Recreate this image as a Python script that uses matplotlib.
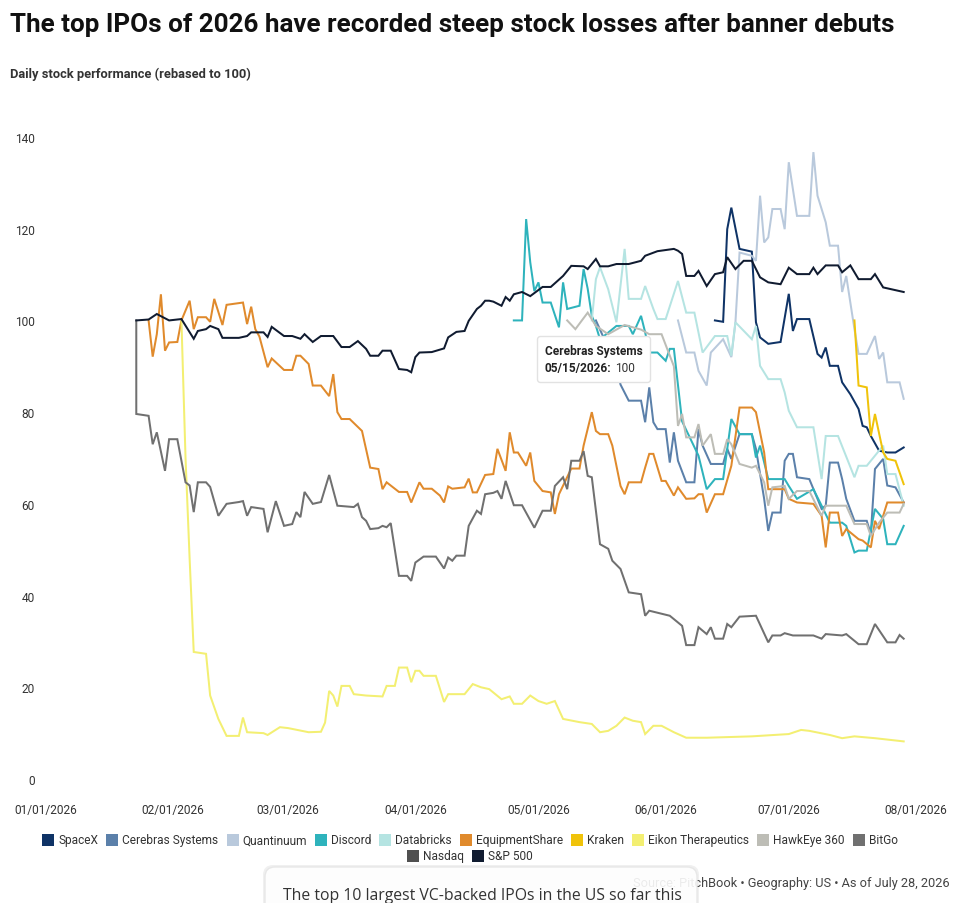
import pandas as pd
import matplotlib
matplotlib.use("Agg")
import matplotlib.pyplot as plt
import matplotlib.dates as mdates
from matplotlib.patches import Rectangle, FancyBboxPatch
from matplotlib.offsetbox import TextArea, HPacker, VPacker, AnnotationBbox
from matplotlib.transforms import IdentityTransform

W, H, DPI = 960, 904, 100
plt.rcParams['font.family'] = ['Roboto', 'DejaVu Sans']

start = pd.Timestamp('2026-01-01')

# days after Jan 1, 2026 and rebased performance
spacex_day = [163, 165, 166, 167, 169, 172, 173, 174, 176, 179, 181, 182, 183, 186, 188, 189, 190, 191, 193, 194,
              196, 198, 199, 200, 201, 203, 205, 207, 209]
spacex_val = [100, 99.7, 119.9, 124.6, 115.6, 115.0, 99.6, 96.3, 94.9, 95.3, 105.8, 97.7, 100.3, 100.3, 92.7, 91.9,
              94.1, 90.1, 90.1, 86.5, 83.9, 80.7, 77.0, 76.7, 74.8, 71.6, 71.2, 71.2, 72.3]

cerebras_day = [134, 136, 139, 140, 142, 145, 146, 147, 148, 149, 151, 152, 153, 154, 156, 158, 159, 160, 162, 165,
                166, 167, 169, 172, 173, 175, 176, 177, 179, 180, 181, 182, 183, 186, 188, 189, 190, 191, 193, 194,
                195, 197, 200, 201, 202, 204, 205, 207, 209]
cerebras_val = [100, 96, 90, 86, 82.5, 82.5, 77.8, 85.4, 77.8, 76.3, 76.3, 69, 75.6, 69.4, 64.7, 64.7, 76.3, 72.7,
                68.7, 68.7, 72, 69.8, 75.2, 75.2, 72, 61.1, 54.1, 58.1, 58.1, 69.4, 70.9, 70.9, 65.8, 65.4, 61.1,
                58.9, 59.6, 69, 69, 65.4, 61.1, 56.3, 56.3, 53.4, 67.6, 69.8, 64, 63.6, 60.3]

quant_day = [154, 156, 158, 159, 161, 162, 165, 167, 168, 169, 172, 173, 174, 175, 176, 177, 179, 180, 181, 183,
             186, 187, 188, 190, 191, 193, 194, 195, 197, 198, 200, 202, 203, 204, 205, 208, 209]
quant_val = [100, 93, 93, 89, 85.8, 93, 95.9, 92, 99.6, 114.8, 114.1, 113, 127.2, 117, 118.1, 124.3, 124.3, 119.9,
             134.5, 122.8, 122.8, 136.7, 127.2, 121.4, 116.3, 116.3, 106.2, 109.7, 98.1, 92.7, 92.7, 96.6, 91.6,
             93, 86.5, 86.5, 82.9]

teal_day = [114, 116, 117, 118, 119, 120, 121, 123, 125, 126, 127, 130, 131, 132, 133, 134, 135, 139, 142, 143,
            145, 146, 147, 149, 151, 152, 153, 155, 159, 161, 163, 165, 167, 169, 172, 173, 174, 176, 180, 181,
            183, 187, 189, 191, 194, 195, 197, 198, 200, 202, 204, 205, 207, 209]
teal_val = [100, 100, 122.1, 112.7, 106.4, 108.3, 103.9, 103.9, 98.5, 108.3, 102.5, 103.2, 111.2, 106.9, 101, 98.8,
            95.9, 98.8, 98.8, 97, 101, 97.4, 93, 93, 91.2, 93.8, 93.8, 78, 70.5, 63.2, 65.4, 65.4, 78.5, 75.2,
            75.2, 70.1, 72.7, 65.4, 65.4, 63.9, 61.1, 63.2, 59.6, 55.9, 55.9, 55.2, 49.4, 49.8, 49.8, 58.9, 56.7,
            51.2, 51.2, 55.2]

cyan_day = [133, 134, 135, 137, 139, 141, 142, 145, 146, 148, 149, 151, 154, 156, 158, 160, 163, 166, 167, 168,
            172, 173, 174, 176, 179, 180, 181, 183, 187, 189, 190, 193, 197, 198, 200, 202, 204, 205, 207, 209]
cyan_val = [100, 109, 111.6, 106.8, 99.6, 115.6, 104.7, 104.7, 107.5, 102.5, 100.3, 100.3, 108.6, 101.7, 101.7, 93,
            96.6, 96.6, 92.3, 99.6, 95.9, 98.8, 90.1, 87.2, 87.2, 84.3, 80.3, 76.7, 76.7, 65.4, 74.8, 74.8, 65.8,
            68.3, 68.3, 70.5, 72.7, 66.5, 66.5, 59.6]

orange_day = [25, 26, 27, 28, 29, 30, 32, 33, 35, 36, 37, 39, 40, 41, 43, 44, 48, 49, 50, 51,
              52, 54, 55, 58, 60, 61, 62, 64, 65, 67, 69, 70, 71, 72, 74, 77, 79, 81, 82, 83,
              86, 88, 89, 91, 92, 94, 96, 97, 98, 99, 102, 103, 104, 105, 107, 109, 110, 112, 113, 114,
              115, 117, 118, 119, 121, 123, 124, 125, 128, 130, 131, 133, 134, 135, 137, 138, 140, 141, 142, 145,
              146, 147, 148, 150, 151, 153, 154, 156, 158, 159, 160, 161, 163, 165, 167, 169, 172, 173, 175, 176,
              180, 181, 183, 187, 189, 190, 191, 193, 194, 195, 198, 199, 201, 202, 203, 205, 209]
orange_val = [100, 92.1, 97, 105.7, 93.4, 95.2, 95.3, 100, 104.3, 98.1, 100.7, 100.7, 99.7, 104.7, 99, 103.4,
              103.9, 99.2, 103, 98.1, 96.5, 89.8, 91.7, 89.2, 89.2, 92.3, 92.3, 90.5, 85.8, 85.8,
              83.5, 88.3, 80, 78.5, 78.5, 75.9, 67.9, 67.6, 63.2, 64.7, 62.6, 62.6, 60.3, 64.7, 63.3, 63.3,
              61.8, 60.3, 63.8, 63.3, 63.6, 65.5, 62.5, 62.5, 66.3, 66.5, 72, 67.2, 75.6, 71.2,
              71.2, 68.3, 71.2, 65, 62.8, 62.5, 57.8, 62.1, 67.7, 67.7, 72.7, 80, 75.9, 75.2, 75.2, 72.7,
              63.9, 62.1, 64.7, 64.7, 67.9, 70.9, 70.9, 65, 65, 61.8, 63.6, 61.1, 61.2, 62.1,
              62.1, 58.1, 62.1, 62.1, 68.3, 81, 81, 80, 71.2, 63.2, 63.2, 61.1, 60.3, 60, 57.4, 50.5,
              58.1, 58.1, 53, 54.5, 52.3, 52, 50.5, 56.3, 54.5, 60.3, 60.3]

gold_day = [197, 198, 200, 201, 202, 204, 205, 207, 209]
gold_val = [100, 85.8, 85.4, 74.8, 79.6, 71.2, 69.8, 69.4, 64.3]

pale_day = [33, 34, 35, 36, 39, 40, 42, 44, 47, 48, 49, 53, 54, 57, 59, 64, 67, 68, 69, 70,
            71, 72, 74, 75, 78, 82, 83, 85, 86, 88, 89, 90, 91, 92, 95, 97, 98, 102, 104, 106,
            108, 111, 113, 114, 116, 118, 120, 122, 124, 126, 130, 133, 135, 137, 139, 141, 143, 145, 146, 148,
            150, 153, 156, 161, 172, 181, 184, 186, 191, 194, 197, 202, 205, 209]
pale_val = [100, 70, 48, 27.7, 27.3, 18.2, 13.1, 9.4, 9.4, 13.4, 10.2, 10, 9.6, 11.3, 11.1, 10.2, 10.3, 12.3,
            19.2, 18.2, 15.8, 20.3, 20.3, 18.5, 18.2, 18, 20.3, 20.3, 24.3, 24.3, 21.1, 23.6, 23.6, 22.5,
            22.5, 16.8, 18.5, 18.5, 20.7, 20, 19.6, 17.4, 18, 16.4, 16.4, 18.2, 17, 16.4, 17, 13.1,
            12.4, 12, 10.2, 10.5, 11.6, 13.4, 12.7, 12.4, 9.8, 11.6, 11.6, 10.2, 9, 9, 9.3, 9.8, 10.7,
            10.5, 9.6, 8.9, 9.3, 8.9, 8.6, 8.2]

hawk_day = [127, 129, 132, 134, 137, 141, 145, 147, 150, 153, 154, 155, 156, 158, 159, 160, 162, 163, 165, 166,
            167, 169, 172, 173, 175, 176, 177, 180, 181, 183, 186, 189, 190, 195, 197, 200, 201, 203, 205, 208, 209]
hawk_val = [100, 98.1, 101.7, 98.8, 97, 99, 98, 97, 97, 90, 77, 79.6, 74.5, 74.5, 77.4, 72.7, 75.2, 70.9, 70.9,
            74.1, 73, 68.7, 67.9, 68.3, 64.7, 59.6, 63.6, 63.9, 61.1, 62.8, 62.8, 57.4, 59.6, 59.6, 55.6, 55.6,
            53, 55.9, 58.1, 58.1, 60]

bitgo_day = [22, 22, 25, 26, 27, 29, 30, 32, 34, 35, 36, 37, 39, 40, 42, 44, 47, 48, 49, 50,
             53, 54, 56, 58, 60, 61, 62, 63, 65, 67, 69, 71, 75, 76, 77, 78, 79, 81, 82, 83,
             84, 86, 88, 89, 90, 92, 95, 97, 98, 99, 100, 102, 103, 105, 106, 107, 109, 110, 111, 112,
             114, 116, 119, 121, 123, 124, 126, 127, 128, 130, 131, 132, 133, 135, 137, 138, 140, 142, 145, 146,
             147, 152, 155, 156, 158, 159, 161, 162, 163, 165, 166, 167, 169, 173, 176, 177, 179, 180, 182, 187,
             189, 190, 194, 195, 198, 200, 202, 205, 207, 208, 209]
bitgo_val = [100, 79.6, 79.2, 73, 75.6, 67.2, 74.1, 74.1, 64.7, 64, 58.2, 64.7, 64.7, 63.7, 57.4, 60, 60.4, 60.6,
             57.4, 59.3, 58.9, 53.8, 60.6, 55.2, 55.6, 58.2, 57.1, 62.6, 60, 60.4, 66.3, 59.6, 59.3, 60, 57.1,
             56.3, 54.5, 54.7, 55.2, 54.9, 55.8, 44.3, 44.3, 43.2, 47.2, 48.5, 48.5, 45.9, 48.3, 47.6,
             48.7, 48.7, 55.2, 58.5, 57.8, 62.1, 62.4, 62.8, 61.1, 65, 59.7, 59.7, 54.8, 58.5, 58.5, 63.9,
             65.8, 63.2, 69.4, 69.4, 71.5, 66.1, 65.8, 51.2, 50.2, 47.6, 45.8, 40.7, 40.3, 35.6,
             36.7, 35.6, 33.4, 29.2, 29.2, 33.1, 31.6, 33.1, 30.6, 30.6, 33.8, 33.1, 35.4, 35.6, 29.8, 31.3,
             31.3, 31.8, 31.3, 31.3, 30.6, 31.6, 31.3, 31.6, 29.4, 29.4, 33.8, 29.8, 29.8, 31.4, 30.6]

sp_day = [22, 25, 27, 30, 33, 36, 37, 39, 40, 42, 43, 47, 49, 50, 53, 54, 55, 58, 60, 62,
          63, 65, 67, 70, 72, 74, 76, 78, 79, 81, 82, 84, 86, 88, 89, 90, 91, 94, 97, 98,
          100, 102, 103, 105, 106, 107, 108, 109, 111, 112, 113, 114, 116, 118, 121, 123, 126, 128, 131, 132,
          134, 135, 137, 139, 142, 145, 146, 149, 153, 154, 155, 156, 158, 159, 161, 163, 165, 166, 168, 170,
          172, 174, 176, 179, 181, 183, 186, 187, 188, 190, 193, 194, 196, 198, 201, 202, 204, 206, 209]
sp_val = [100, 100.2, 101.4, 100, 100.3, 96, 97.7, 98.1, 98.8, 98.1, 96.2, 96.2, 96.6, 97.4, 97.4, 96.4, 98.6,
          96.6, 96.6, 96, 97, 95.3, 96.6, 96.6, 94.2, 94.2, 95.5, 93.8, 92.3, 92.3, 93.4, 93.4, 89.4, 89.2,
          88.7, 92, 93, 93.1, 93.9, 96.3, 97.5, 97.7, 99.9, 102.5, 103.2, 104.3, 104.3, 104.1, 103.2, 105.1,
          104.3, 105.7, 106.2, 105.3, 107.3, 107.3, 109.7, 111.9, 111.8, 111.2, 113.4, 111.8, 111.8, 112.3,
          112.3, 113, 114.1, 115.1, 115.6, 115.2, 114.5, 109.7, 109.7, 110.8, 107.5, 110.1, 110.5, 113.8,
          111.2, 113, 113, 109.4, 108.3, 107.9, 111.5, 110.1, 110.1, 111.5, 110.1, 112, 112, 110.5, 112, 109,
          109, 110.1, 107.2, 106.8, 106.2]

names = ['SpaceX', 'Cerebras Systems', 'Quantinuum', 'Discord', 'Databricks', 'EquipmentShare',
         'Kraken', 'Eikon Therapeutics', 'HawkEye 360', 'BitGo', 'Nasdaq', 'S&P 500']
colors = ['#0f3366', '#5b80aa', '#b9c9dc', '#2eb3bc', '#b5e4e2', '#e08a2c',
          '#f0c30a', '#f3ef72', '#bdbdb6', '#707070', '#505050', '#101b30']
days = [spacex_day, cerebras_day, quant_day, teal_day, cyan_day, orange_day,
        gold_day, pale_day, hawk_day, bitgo_day, None, sp_day]
vals = [spacex_val, cerebras_val, quant_val, teal_val, cyan_val, orange_val,
        gold_val, pale_val, hawk_val, bitgo_val, None, sp_val]

fig = plt.figure(figsize=(W / DPI, H / DPI), dpi=DPI)
ax = fig.add_axes([46 / W, 1 - 780 / H, 870 / W, 642 / H])

for name, c, d, v in zip(names, colors, days, vals):
    if d is None:
        continue
    ax.plot(start + pd.to_timedelta(d, unit='D'), v, color=c, lw=1.45, solid_joinstyle='miter')

ax.set_xlim(pd.Timestamp('2026-01-01'), pd.Timestamp('2026-08-01'))
ax.set_ylim(0, 140)
ax.set_yticks(range(0, 141, 20))
ax.xaxis.set_major_locator(mdates.MonthLocator())
ax.xaxis.set_major_formatter(mdates.DateFormatter('%m/%d/%Y'))
for s in ax.spines.values():
    s.set_visible(False)
ax.tick_params(axis='both', length=0, labelsize=8.6, labelcolor='#333333')
ax.tick_params(axis='y', pad=8)
ax.tick_params(axis='x', pad=17)

# tooltip on Cerebras Systems
tip = VPacker(children=[
    TextArea('Cerebras Systems', textprops=dict(fontsize=8.6, fontweight='bold', color='#222222')),
    HPacker(children=[
        TextArea('05/15/2026:', textprops=dict(fontsize=8.6, fontweight='bold', color='#222222')),
        TextArea('100', textprops=dict(fontsize=8.6, color='#333333'))], sep=3, pad=0)],
    sep=3, pad=0)
ab = AnnotationBbox(tip, (pd.Timestamp('2026-05-15'), 100), xybox=(-37, -17), xycoords='data',
                    boxcoords='offset points', box_alignment=(0, 1), pad=0.6, frameon=True,
                    bboxprops=dict(boxstyle='round,pad=0.55,rounding_size=0.2', fc='white', ec='#e2e2e2', lw=1))
ab.set_zorder(10)
ax.add_artist(ab)

# titles
fig.text(10 / W, 1 - 25 / H, 'The top IPOs of 2026 have recorded steep stock losses after banner debuts',
         fontsize=18.7, fontweight='bold', color='#111111', va='center')
fig.text(10 / W, 1 - 74 / H, 'Daily stock performance (rebased to 100)',
         fontsize=9.25, fontweight='bold', color='#333333', va='center')

# legend, two centered rows of square swatches
renderer = fig.canvas.get_renderer()
rows = [list(range(10)), [10, 11]]
row_y = [841, 857]
sq, gap, space, cx = 12, 4, 8, 470
for r, ry in zip(rows, row_y):
    txts = []
    for i in r:
        t = fig.text(0, 1 - ry / H, names[i], fontsize=8.6, color='#333333', va='center')
        txts.append(t)
    widths = [t.get_window_extent(renderer).width for t in txts]
    total = sum(sq + gap + w for w in widths) + space * (len(r) - 1)
    x = cx - total / 2
    for i, t, w in zip(r, txts, widths):
        fig.patches.append(Rectangle((x / W, 1 - (ry + sq / 2) / H), sq / W, sq / H,
                                     transform=fig.transFigure, fc=colors[i], ec='none'))
        t.set_x((x + sq + gap) / W)
        x += sq + gap + w + space

fig.text(950 / W, 1 - 884 / H, 'Source: PitchBook \u2022 Geography: US \u2022 As of July 28, 2026',
         fontsize=9.2, color='#444444', va='center', ha='right')

# page card overlapping the bottom of the chart
shadow = FancyBboxPatch((263, H - 918), 436, 52, boxstyle='round,pad=0,rounding_size=10',
                        transform=IdentityTransform(), fc='#000000', alpha=0.06, ec='none', zorder=20)
card = FancyBboxPatch((265, H - 916), 432, 48, boxstyle='round,pad=0,rounding_size=10',
                      transform=IdentityTransform(), fc='white', alpha=0.9, ec='#e6e6e6', lw=1, zorder=21)
fig.patches.extend([shadow, card])
fig.text(283 / W, 1 - 896 / H, 'The top 10 largest VC-backed IPOs in the US so far this',
         fontsize=11.3, color='#333333', va='center', family=['Open Sans', 'DejaVu Sans'], zorder=22)

fig.savefig('out.png', dpi=DPI)
